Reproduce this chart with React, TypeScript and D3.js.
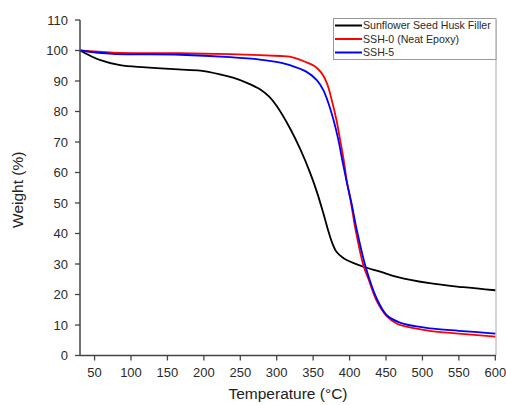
import React from "react";
import * as d3 from "d3";

const seriesNames = ["Sunflower Seed Husk Filler", "SSH-0 (Neat Epoxy)", "SSH-5"];
const seriesColors = ["#000000", "#ff0000", "#0000ff"];

const huskT = [30, 57, 85, 120, 165, 195, 222, 240, 259, 277, 290, 300, 318, 332, 346, 356, 364, 370, 376, 382, 390, 396, 419, 442, 465, 510, 556, 600];
const huskW = [100, 96.9, 95.2, 94.5, 93.8, 93.4, 92.2, 91.1, 89.4, 87.3, 84.8, 81.8, 74.6, 67.8, 59.8, 53.0, 46.6, 41.5, 37.0, 34.0, 32.2, 31.3, 29.1, 27.5, 25.8, 23.7, 22.4, 21.4];

const ssh0T = [30, 75, 167, 236, 277, 305, 318, 339, 353, 362, 369, 375.5, 382, 387, 392, 396, 402, 408, 419, 426, 437, 451, 465, 490, 510, 550, 600];
const ssh0W = [100, 99.3, 99.1, 98.8, 98.5, 98.2, 98.0, 96.3, 94.7, 92.5, 89.2, 83.8, 77.2, 70.7, 64.0, 57.5, 50.0, 41.5, 29.5, 25.0, 18.0, 12.9, 10.4, 8.9, 8.1, 7.2, 6.2];

const ssh5T = [30, 75, 167, 236, 277, 305, 318, 341, 355, 364, 371, 378, 384.6, 390, 396, 403, 410, 422, 437, 451, 469, 490, 510, 550, 600];
const ssh5W = [100, 98.9, 98.6, 97.8, 97.0, 96.0, 95.2, 93.0, 90.3, 87.0, 82.7, 77.2, 70.7, 64.0, 57.0, 49.5, 41.1, 29.1, 18.8, 13.2, 10.8, 9.6, 8.9, 8.1, 7.2];

const xTicks = [50, 100, 150, 200, 250, 300, 350, 400, 450, 500, 550, 600];
const yTicks = [0, 10, 20, 30, 40, 50, 60, 70, 80, 90, 100, 110];

const font = "'Liberation Sans', Arial, sans-serif";

export default function App() {
  const W = 506, H = 405;
  const left = 80, right = 496, top = 20, bottom = 355.5;
  const x = d3.scaleLinear().domain([30, 600]).range([left, right - 0.7]);
  const y = d3.scaleLinear().domain([0, 110]).range([bottom, top]);

  const series = [
    { T: huskT, Wt: huskW },
    { T: ssh0T, Wt: ssh0W },
    { T: ssh5T, Wt: ssh5W },
  ];
  const line = d3
    .line<[number, number]>()
    .x((d) => x(d[0]))
    .y((d) => y(d[1]))
    .curve(d3.curveCatmullRom.alpha(0.5));

  const axisColor = "#444";
  const textColor = "#2a2a2a";

  return (
    <svg width={W} height={H} style={{ position: "absolute", left: 0, top: 0, background: "#fff" }}>
      <line x1={right} x2={right} y1={top} y2={bottom} stroke="#aaa" strokeWidth={1} />
      {[0, 1, 2].map((i) => (
        <path
          key={i}
          d={line(series[i].T.map((t, k) => [t, series[i].Wt[k]] as [number, number])) || ""}
          fill="none"
          stroke={seriesColors[i]}
          strokeWidth={1.8}
        />
      ))}
      <line x1={left} x2={left} y1={top} y2={bottom} stroke={axisColor} strokeWidth={1.5} />
      {yTicks.map((v) => (
        <g key={"y" + v}>
          <line x1={left - 5} x2={left} y1={y(v)} y2={y(v)} stroke={axisColor} strokeWidth={1.3} />
          <text x={left - 12} y={y(v)} dy="0.36em" textAnchor="end" fontSize={13} fontFamily={font} fill={textColor}>
            {v}
          </text>
        </g>
      ))}
      <line x1={left} x2={right} y1={bottom} y2={bottom} stroke={axisColor} strokeWidth={1.5} />
      {xTicks.map((v) => (
        <g key={"x" + v}>
          <line x1={x(v)} x2={x(v)} y1={bottom} y2={bottom + 5} stroke={axisColor} strokeWidth={1.3} />
          <text x={x(v)} y={bottom + 17} dy="0.36em" textAnchor="middle" fontSize={13} fontFamily={font} fill={textColor}>
            {v}
          </text>
        </g>
      ))}
      <text x={288} y={399} textAnchor="middle" fontSize={15.5} fontFamily={font} fill="#222">
        Temperature (°C)
      </text>
      <text
        transform={`translate(23, ${(top + bottom) / 2 + 2}) rotate(-90)`}
        textAnchor="middle"
        fontSize={15.5}
        fontFamily={font}
        fill="#222"
      >
        Weight (%)
      </text>
      <rect x={333.5} y={18.5} width={162.5} height={41} fill="#fff" stroke="#999" strokeWidth={1} />
      {seriesNames.map((name, i) => (
        <g key={name}>
          <line x1={335} x2={362} y1={25.5 + i * 13.5} y2={25.5 + i * 13.5} stroke={seriesColors[i]} strokeWidth={2} />
          <text x={363} y={25.5 + i * 13.5} dy="0.36em" fontSize={10.6} fontFamily={font} fill={textColor}>
            {name}
          </text>
        </g>
      ))}
    </svg>
  );
}
